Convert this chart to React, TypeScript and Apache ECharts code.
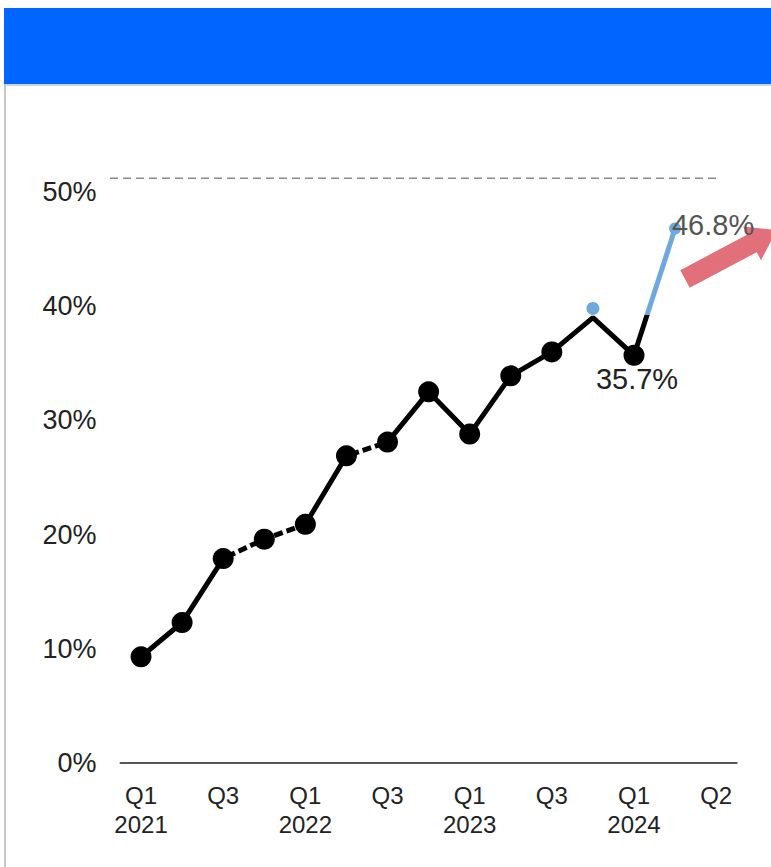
import React, { useEffect, useRef } from 'react';
import * as echarts from 'echarts';

// Category ticks (15 slots; every other one is labelled)
const categories = [
  'Q1\n2021', 'Q2 2021', 'Q3', 'Q4 2021',
  'Q1\n2022', 'Q2 2022', 'Q3', 'Q4 2022',
  'Q1\n2023', 'Q2 2023', 'Q3', 'Q4 2023',
  'Q1\n2024', 'Q2 2024', 'Q2',
];

// Main (black) line values, %
const lineValues: (number | string)[] = [9.3, 12.3, 17.9, 19.6, 20.9, 26.9, 28.1, 32.5, 28.8, 33.9, 36.0, 39.0, 35.7, '-', '-'];
// Black markers
const blackMarkers: (number | string)[] = [9.3, 12.3, 17.9, 19.6, 20.9, 26.9, 28.1, 32.5, 28.8, 33.9, 36.0, '-', 35.7, '-', '-'];
// Dashed segments overlay
const dashedA: (number | string)[] = ['-', '-', 17.9, 19.6, 20.9, '-', '-', '-', '-', '-', '-', '-', '-', '-', '-'];
const dashedB: (number | string)[] = ['-', '-', '-', '-', '-', 26.9, 28.1, '-', '-', '-', '-', '-', '-', '-', '-'];
// Blue (projection) line and markers
const blueLine: (number | string)[] = ['-', '-', '-', '-', '-', '-', '-', '-', '-', '-', '-', '-', 35.7, 46.8, '-'];
const blueMarkers: (number | string)[] = ['-', '-', '-', '-', '-', '-', '-', '-', '-', '-', '-', 39.8, '-', 46.8, '-'];
// Reference (dashed grey) level
const referenceLevel = 51.2;
// Level at which the last segment turns from black to blue
const colorThreshold = 39.25;

const FONT = 'Liberation Sans, Arial, Helvetica, sans-serif';
const BLUE = '#6fa8dc';

export default function App() {
  const ref = useRef<HTMLDivElement>(null);
  useEffect(() => {
    if (!ref.current) return;
    const chart = echarts.init(ref.current, undefined, { renderer: 'svg' });

    const gridTop = 192;
    const gridBottom = 104;
    const plotH = 867 - gridTop - gridBottom;
    const refY = 867 - gridBottom - (referenceLevel / 50) * plotH;

    const lo = blueLine[12] as number;
    const hi = blueLine[13] as number;
    const off = (colorThreshold - lo) / (hi - lo);
    const blueGradient = new echarts.graphic.LinearGradient(0, 1, 0, 0, [
      { offset: 0, color: '#000' },
      { offset: off, color: '#000' },
      { offset: off, color: BLUE },
      { offset: 1, color: BLUE },
    ]);

    const blackMarkerData = blackMarkers.map((v, i) =>
      i === 12
        ? {
            value: v,
            label: {
              show: true,
              formatter: '{c}%',
              position: 'inside',
              offset: [3, 24],
              fontSize: 29,
              color: '#222',
              fontFamily: FONT,
            },
          }
        : v
    );
    const blueMarkerData = blueMarkers.map((v, i) =>
      i === 13
        ? {
            value: v,
            symbolSize: 12,
            label: {
              show: true,
              formatter: '{c}%',
              position: 'inside',
              offset: [38, -4],
              fontSize: 29,
              color: '#555',
              fontFamily: FONT,
            },
          }
        : v
    );

    chart.setOption({
      animation: false,
      grid: { left: 120.5, right: 34.3, top: gridTop, bottom: gridBottom, containLabel: false },
      xAxis: {
        type: 'category',
        data: categories,
        boundaryGap: true,
        axisLine: { show: true, lineStyle: { color: '#555', width: 2 } },
        axisTick: { show: false },
        axisLabel: {
          interval: 1,
          color: '#222',
          fontSize: 24,
          lineHeight: 29,
          margin: 18,
          fontFamily: FONT,
        },
        splitLine: { show: false },
      },
      yAxis: {
        type: 'value',
        min: 0,
        max: 50,
        interval: 10,
        axisLine: { show: false },
        axisTick: { show: false },
        splitLine: { show: false },
        axisLabel: {
          formatter: '{value}%',
          color: '#222',
          fontSize: 27,
          margin: 24,
          fontFamily: FONT,
        },
      },
      series: [
        {
          type: 'line',
          data: blueLine,
          showSymbol: false,
          z: 1,
          lineStyle: { color: blueGradient, width: 5 },
          itemStyle: { color: BLUE },
        },
        {
          type: 'line',
          data: lineValues,
          showSymbol: false,
          z: 2,
          lineStyle: { color: '#000', width: 5 },
          itemStyle: { color: '#000' },
        },
        {
          type: 'line',
          data: dashedA,
          showSymbol: false,
          z: 3,
          lineStyle: { color: '#fff', width: 6, type: [4, 9] },
        },
        {
          type: 'line',
          data: dashedB,
          showSymbol: false,
          z: 3,
          lineStyle: { color: '#fff', width: 6, type: [4, 9] },
        },
        {
          type: 'scatter',
          data: blackMarkerData,
          symbolSize: 21,
          z: 4,
          itemStyle: { color: '#000', opacity: 1 },
        },
        {
          type: 'scatter',
          data: blueMarkerData,
          symbolSize: 13,
          z: 5,
          itemStyle: { color: BLUE, opacity: 1 },
        },
      ],
      graphic: [
        {
          type: 'rect',
          shape: { x: 4, y: 8, width: 767, height: 76 },
          style: { fill: '#0066ff' },
          silent: true,
        },
        {
          type: 'line',
          shape: { x1: 4, y1: 85, x2: 771, y2: 85 },
          style: { stroke: '#c9d6ea', lineWidth: 2 },
          silent: true,
        },
        {
          type: 'line',
          shape: { x1: 5, y1: 84, x2: 5, y2: 867 },
          style: { stroke: '#c8c8c8', lineWidth: 2 },
          silent: true,
        },
        {
          type: 'line',
          shape: { x1: 110, y1: refY, x2: 716, y2: refY },
          style: { stroke: '#8a8a8a', lineWidth: 1.5, lineDash: [8, 5] },
          silent: true,
        },
        {
          type: 'line',
          shape: { x1: 717, y1: 763, x2: 737, y2: 763 },
          style: { stroke: '#111', lineWidth: 2 },
          silent: true,
        },
        {
          type: 'polygon',
          x: 685,
          y: 279,
          rotation: (28 * Math.PI) / 180,
          shape: {
            points: [
              [0, -10],
              [76, -10],
              [76, -19],
              [104, 0],
              [76, 19],
              [76, 10],
              [0, 10],
            ],
          },
          style: { fill: '#e2707a' },
          silent: true,
        },
      ],
    });
    return () => chart.dispose();
  }, []);

  return (
    <div
      ref={ref}
      style={{ position: 'fixed', left: 0, top: 0, width: 771, height: 867, background: '#fff' }}
    />
  );
}
